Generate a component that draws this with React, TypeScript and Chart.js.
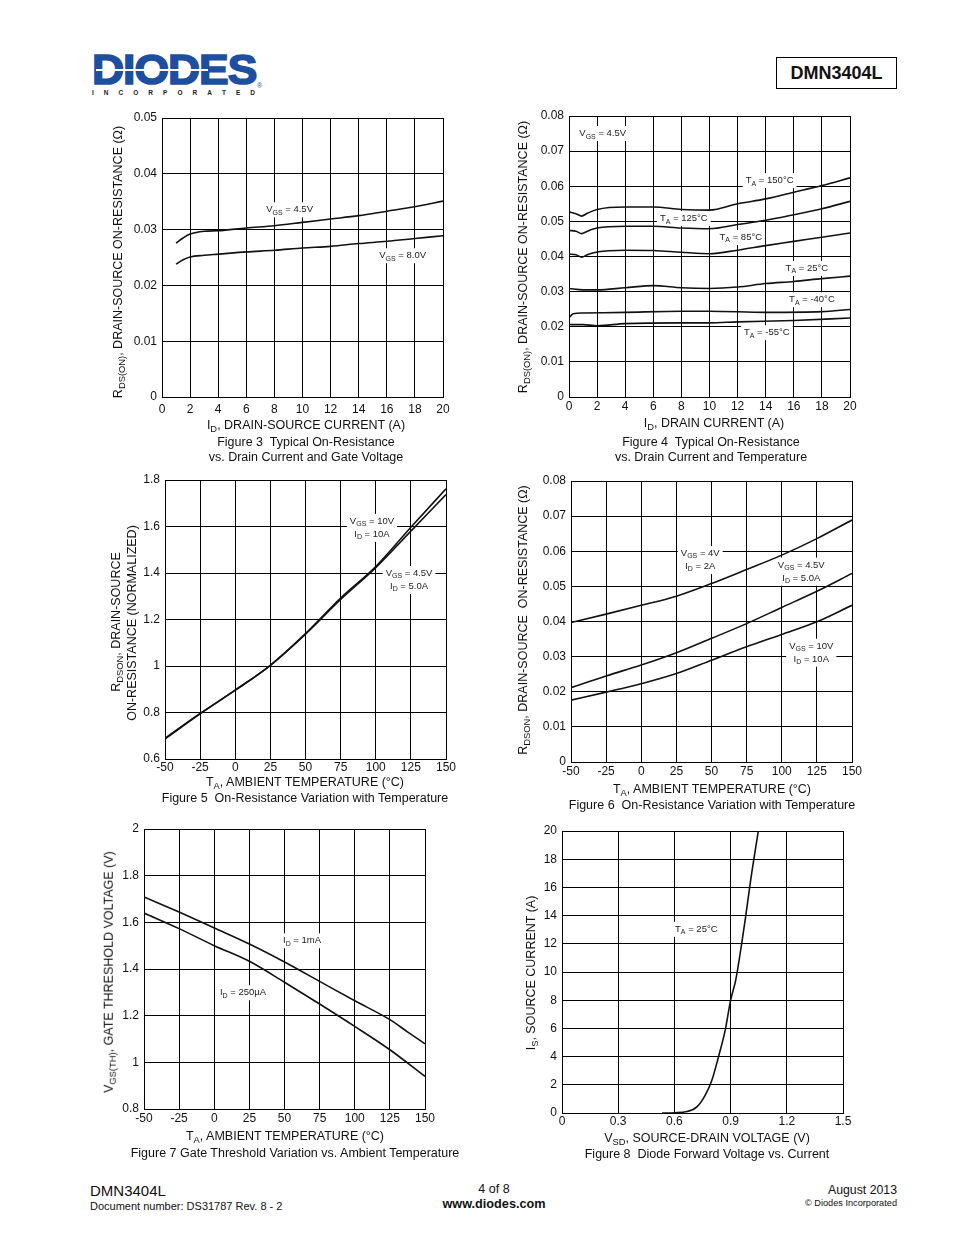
import React, { useEffect, useRef } from 'react';
import { Chart, registerables } from 'chart.js';
Chart.register(...registerables);

const FONT = '"Liberation Sans", Arial, Helvetica, sans-serif';
const INK = '#111';

// ---------- Figure 3 ----------
const fig3Current = [1, 1.5, 2, 3, 4, 6, 8, 10, 12, 14, 16, 18, 20];
const fig3Vgs45 = [0.0276, 0.0285, 0.0292, 0.0297, 0.0298, 0.0303, 0.0307, 0.0313, 0.0319, 0.0325, 0.0333, 0.0341, 0.0351];
const fig3Vgs80 = [0.0238, 0.0246, 0.0251, 0.0254, 0.0256, 0.026, 0.0263, 0.0267, 0.027, 0.0275, 0.0279, 0.0284, 0.0289];
const fig3XTicks = [0, 2, 4, 6, 8, 10, 12, 14, 16, 18, 20];
const fig3XLabels = ['0', '2', '4', '6', '8', '10', '12', '14', '16', '18', '20'];
const fig3YTicks = [0, 0.01, 0.02, 0.03, 0.04, 0.05];
const fig3YLabels = ['0', '0.01', '0.02', '0.03', '0.04', '0.05'];

// ---------- Figure 4 ----------
const fig4CurrentHot = [0, 0.5, 0.9, 1.3, 2, 4, 6, 8, 10, 12, 14, 16, 18, 20];
const fig4T150 = [0.0527, 0.0522, 0.0515, 0.0523, 0.0534, 0.0541, 0.0541, 0.0534, 0.0532, 0.055, 0.0564, 0.0583, 0.0602, 0.0624];
const fig4T125 = [0.0474, 0.0472, 0.0465, 0.0472, 0.0481, 0.0486, 0.0486, 0.0481, 0.0479, 0.0491, 0.0503, 0.0519, 0.0536, 0.0557];
const fig4T85 = [0.0407, 0.0405, 0.0398, 0.0405, 0.0413, 0.0418, 0.0417, 0.0412, 0.0408, 0.0418, 0.0431, 0.0443, 0.0455, 0.0467];
const fig4Current25 = [0, 1, 2, 4, 6, 8, 10, 12, 14, 16, 18, 20];
const fig4T25 = [0.0309, 0.0305, 0.0305, 0.0311, 0.0317, 0.0311, 0.0309, 0.0313, 0.0323, 0.0329, 0.0337, 0.0344];
const fig4CurrentM40 = [0, 0.3, 1, 4, 8, 10, 14, 18, 20];
const fig4TM40 = [0.0225, 0.0237, 0.0239, 0.0241, 0.0244, 0.0244, 0.0241, 0.0243, 0.0249];
const fig4CurrentM55 = [0, 1, 2, 4, 8, 10, 12, 16, 20];
const fig4TM55 = [0.0206, 0.0206, 0.0203, 0.0209, 0.0211, 0.0211, 0.0214, 0.0218, 0.0225];
const fig4XTicks = [0, 2, 4, 6, 8, 10, 12, 14, 16, 18, 20];
const fig4XLabels = ['0', '2', '4', '6', '8', '10', '12', '14', '16', '18', '20'];
const fig4YTicks = [0, 0.01, 0.02, 0.03, 0.04, 0.05, 0.06, 0.07, 0.08];
const fig4YLabels = ['0', '0.01', '0.02', '0.03', '0.04', '0.05', '0.06', '0.07', '0.08'];

// ---------- Figure 5 ----------
const fig5Temp = [-50, -25, 0, 25, 50, 75, 100, 125, 150];
const fig5Vgs10 = [0.689, 0.796, 0.896, 1.003, 1.139, 1.292, 1.428, 1.597, 1.762];
const fig5Vgs45 = [0.686, 0.794, 0.896, 1.003, 1.137, 1.286, 1.423, 1.58, 1.737];
const tempTicks = [-50, -25, 0, 25, 50, 75, 100, 125, 150];
const tempLabels = ['-50', '-25', '0', '25', '50', '75', '100', '125', '150'];
const fig5YTicks = [0.6, 0.8, 1, 1.2, 1.4, 1.6, 1.8];
const fig5YLabels = ['0.6', '0.8', '1', '1.2', '1.4', '1.6', '1.8'];

// ---------- Figure 6 ----------
const fig6Temp = [-50, -25, 0, 25, 50, 75, 100, 125, 150];
const fig6Vgs4 = [0.0397, 0.0421, 0.0446, 0.0472, 0.0508, 0.0548, 0.0589, 0.0636, 0.0689];
const fig6Vgs45 = [0.0212, 0.0245, 0.0276, 0.0311, 0.0352, 0.0394, 0.044, 0.0486, 0.0537];
const fig6Vgs10 = [0.0176, 0.0199, 0.0223, 0.0252, 0.029, 0.0328, 0.0363, 0.0399, 0.0446];
const fig6YTicks = [0, 0.01, 0.02, 0.03, 0.04, 0.05, 0.06, 0.07, 0.08];
const fig6YLabels = ['0', '0.01', '0.02', '0.03', '0.04', '0.05', '0.06', '0.07', '0.08'];

// ---------- Figure 7 ----------
const fig7Temp1mA = [-50, -25, 0, 25, 50, 75, 100, 125, 137, 150];
const fig7Id1mA = [1.709, 1.644, 1.576, 1.507, 1.43, 1.347, 1.264, 1.183, 1.133, 1.079];
const fig7Temp250 = [-50, -25, 0, 25, 50, 75, 100, 125, 150];
const fig7Id250uA = [1.64, 1.573, 1.5, 1.433, 1.343, 1.25, 1.154, 1.054, 0.94];
const fig7YTicks = [0.8, 1, 1.2, 1.4, 1.6, 1.8, 2];
const fig7YLabels = ['0.8', '1', '1.2', '1.4', '1.6', '1.8', '2'];

// ---------- Figure 8 ----------
const fig8Vsd = [0.534, 0.6, 0.667, 0.72, 0.764, 0.8, 0.835, 0.871, 0.9, 0.927, 0.959, 0.98, 1.007, 1.048];
const fig8Is = [0, 0.02, 0.1, 0.43, 1.25, 2.32, 3.97, 5.86, 7.99, 9.4, 12.0, 13.9, 16.5, 20.0];
const fig8XTicks = [0, 0.3, 0.6, 0.9, 1.2, 1.5];
const fig8XLabels = ['0', '0.3', '0.6', '0.9', '1.2', '1.5'];
const fig8YTicks = [0, 2, 4, 6, 8, 10, 12, 14, 16, 18, 20];
const fig8YLabels = ['0', '2', '4', '6', '8', '10', '12', '14', '16', '18', '20'];

type Part = [string, boolean?];
type Ann = { x: number; y: number; lines: Part[][] };
type Series = { x: number[]; y: number[] };
type AxisSpec = { min: number; max: number; ticks: number[]; labels: string[] };
type Spec = {
  plot: [number, number, number, number];
  x: AxisSpec;
  y: AxisSpec;
  series: Series[];
  anns: Ann[];
  xPad: number;
};

const YW = 55;
const PT = 14;
const PR = 16;
const XH = 24;

function annPlugin(anns: Ann[]) {
  return {
    id: 'anns',
    beforeDatasetsDraw(chart: any) {
      const ctx: CanvasRenderingContext2D = chart.ctx;
      const xs = chart.scales.x;
      const ys = chart.scales.y;
      const main = `9.5px ${FONT}`;
      const sub = `7px ${FONT}`;
      const lineH = 13;
      ctx.save();
      for (const a of anns) {
        const cx = xs.getPixelForValue(a.x);
        const cy = ys.getPixelForValue(a.y);
        const widths = a.lines.map((line) =>
          line.reduce((acc, [t, s]) => {
            ctx.font = s ? sub : main;
            return acc + ctx.measureText(t).width;
          }, 0)
        );
        const w = Math.max(...widths);
        const h = lineH * a.lines.length;
        ctx.fillStyle = '#fff';
        ctx.fillRect(cx - w / 2 - 3, cy - h / 2 - 1, w + 6, h + 2);
        a.lines.forEach((line, i) => {
          let x = cx - widths[i] / 2;
          const y = cy - h / 2 + lineH * (i + 0.5);
          for (const [t, s] of line) {
            ctx.font = s ? sub : main;
            ctx.fillStyle = '#222';
            ctx.textBaseline = 'middle';
            ctx.textAlign = 'left';
            ctx.fillText(t, x, s ? y + 3 : y);
            x += ctx.measureText(t).width;
          }
        });
      }
      ctx.restore();
    },
  };
}

function axis(spec: AxisSpec, horizontal: boolean, pad: number) {
  return {
    type: 'linear' as const,
    min: spec.min,
    max: spec.max,
    afterBuildTicks: (s: any) => {
      s.ticks = spec.ticks.map((v) => ({ value: v }));
    },
    afterFit: (s: any) => {
      if (horizontal) s.height = XH;
      else s.width = YW;
    },
    ticks: {
      callback: (_v: any, i: number) => spec.labels[i],
      font: { size: 12, family: FONT },
      color: INK,
      padding: pad,
      maxRotation: 0,
      autoSkip: false,
    },
    grid: { color: '#000', lineWidth: 1, drawTicks: false },
    border: { color: '#000', width: 1 },
  };
}

function ChartBox({ spec }: { spec: Spec }) {
  const ref = useRef<HTMLCanvasElement>(null);
  const [l, t, r, b] = spec.plot;
  const w = r - l + YW + PR;
  const h = b - t + PT + XH;
  useEffect(() => {
    const chart = new Chart(ref.current as HTMLCanvasElement, {
      type: 'scatter',
      data: {
        datasets: spec.series.map((s) => ({
          data: s.x.map((xv, i) => ({ x: xv, y: s.y[i] })),
          showLine: true,
          borderColor: '#111',
          borderWidth: 1.6,
          pointRadius: 0,
          cubicInterpolationMode: 'monotone' as const,
          fill: false,
        })),
      },
      options: {
        responsive: false,
        animation: false,
        layout: { padding: { top: PT, right: PR, left: 0, bottom: 0 } },
        plugins: { legend: { display: false }, tooltip: { enabled: false } },
        scales: {
          x: axis(spec.x, true, spec.xPad),
          y: axis(spec.y, false, 5),
        },
      } as any,
      plugins: [annPlugin(spec.anns)],
    });
    return () => chart.destroy();
  }, []);
  return (
    <canvas
      ref={ref}
      width={w}
      height={h}
      style={{ position: 'absolute', left: l - YW, top: t - PT, width: w, height: h }}
    />
  );
}

const Sub = ({ children }: { children: React.ReactNode }) => (
  <span style={{ fontSize: '0.75em', position: 'relative', top: '0.3em' }}>{children}</span>
);

function Txt({
  x,
  y,
  size = 12.5,
  anchor = 'middle',
  bold = false,
  rotate = false,
  color = INK,
  children,
}: {
  x: number;
  y: number;
  size?: number;
  anchor?: 'start' | 'middle' | 'end';
  bold?: boolean;
  rotate?: boolean;
  color?: string;
  children: React.ReactNode;
}) {
  const tx = anchor === 'start' ? '0' : anchor === 'end' ? '-100%' : '-50%';
  return (
    <div
      style={{
        position: 'absolute',
        left: x,
        top: y,
        transform: `translate(${tx},-50%)${rotate ? ' rotate(-90deg)' : ''}`,
        whiteSpace: 'pre',
        fontSize: size,
        lineHeight: 1,
        fontFamily: FONT,
        fontWeight: bold ? 'bold' : 'normal',
        color,
      }}
    >
      {children}
    </div>
  );
}

const vgs = (v: string): Part[] => [['V'], ['GS', true], [` = ${v}`]];
const ta = (v: string): Part[] => [['T'], ['A', true], [` = ${v}`]];
const idl = (v: string): Part[] => [['I'], ['D', true], [` = ${v}`]];

const specs: Spec[] = [
  {
    plot: [162, 118, 443, 397],
    x: { min: 0, max: 20, ticks: fig3XTicks, labels: fig3XLabels },
    y: { min: 0, max: 0.05, ticks: fig3YTicks, labels: fig3YLabels },
    series: [
      { x: fig3Current, y: fig3Vgs45 },
      { x: fig3Current, y: fig3Vgs80 },
    ],
    anns: [
      { x: 9.08, y: 0.03354, lines: [vgs('4.5V')] },
      { x: 17.13, y: 0.02531, lines: [vgs('8.0V')] },
    ],
    xPad: 5,
  },
  {
    plot: [569, 116, 850, 397],
    x: { min: 0, max: 20, ticks: fig4XTicks, labels: fig4XLabels },
    y: { min: 0, max: 0.08, ticks: fig4YTicks, labels: fig4YLabels },
    series: [
      { x: fig4CurrentHot, y: fig4T150 },
      { x: fig4CurrentHot, y: fig4T125 },
      { x: fig4CurrentHot, y: fig4T85 },
      { x: fig4Current25, y: fig4T25 },
      { x: fig4CurrentM40, y: fig4TM40 },
      { x: fig4CurrentM55, y: fig4TM55 },
    ],
    anns: [
      { x: 2.4, y: 0.075, lines: [vgs('4.5V')] },
      { x: 14.28, y: 0.0616, lines: [ta('150°C')] },
      { x: 8.17, y: 0.0508, lines: [ta('125°C')] },
      { x: 12.23, y: 0.0454, lines: [ta('85°C')] },
      { x: 16.93, y: 0.0366, lines: [ta('25°C')] },
      { x: 17.29, y: 0.0277, lines: [ta('-40°C')] },
      { x: 14.08, y: 0.0183, lines: [ta('-55°C')] },
    ],
    xPad: 2,
  },
  {
    plot: [165, 480, 446, 759],
    x: { min: -50, max: 150, ticks: tempTicks, labels: tempLabels },
    y: { min: 0.6, max: 1.8, ticks: fig5YTicks, labels: fig5YLabels },
    series: [
      { x: fig5Temp, y: fig5Vgs10 },
      { x: fig5Temp, y: fig5Vgs45 },
    ],
    anns: [
      { x: 97.3, y: 1.594, lines: [vgs('10V'), idl('10A')] },
      { x: 123.7, y: 1.37, lines: [vgs('4.5V'), idl('5.0A')] },
    ],
    xPad: 1,
  },
  {
    plot: [571, 481, 852, 762],
    x: { min: -50, max: 150, ticks: tempTicks, labels: tempLabels },
    y: { min: 0, max: 0.08, ticks: fig6YTicks, labels: fig6YLabels },
    series: [
      { x: fig6Temp, y: fig6Vgs4 },
      { x: fig6Temp, y: fig6Vgs45 },
      { x: fig6Temp, y: fig6Vgs10 },
    ],
    anns: [
      { x: 42.0, y: 0.0575, lines: [vgs('4V'), idl('2A')] },
      { x: 113.9, y: 0.0542, lines: [vgs('4.5V'), idl('5.0A')] },
      { x: 121.0, y: 0.0311, lines: [vgs('10V'), idl('10A')] },
    ],
    xPad: 2,
  },
  {
    plot: [144, 829, 425, 1109],
    x: { min: -50, max: 150, ticks: tempTicks, labels: tempLabels },
    y: { min: 0.8, max: 2, ticks: fig7YTicks, labels: fig7YLabels },
    series: [
      { x: fig7Temp1mA, y: fig7Id1mA },
      { x: fig7Temp250, y: fig7Id250uA },
    ],
    anns: [
      { x: 62.5, y: 1.521, lines: [idl('1mA')] },
      { x: 20.5, y: 1.298, lines: [idl('250µA')] },
    ],
    xPad: 2,
  },
  {
    plot: [562, 831, 843, 1113],
    x: { min: 0, max: 1.5, ticks: fig8XTicks, labels: fig8XLabels },
    y: { min: 0, max: 20, ticks: fig8YTicks, labels: fig8YLabels },
    series: [{ x: fig8Vsd, y: fig8Is }],
    anns: [{ x: 0.717, y: 13.03, lines: [ta('25°C')] }],
    xPad: 1,
  },
];

const BLUE = '#1d4f9e';

export default function App() {
  return (
    <div
      style={{
        position: 'absolute',
        left: 0,
        top: 0,
        width: 954,
        height: 1235,
        background: '#fff',
        fontFamily: FONT,
        color: INK,
        overflow: 'hidden',
      }}
    >
      {/* Logo */}
      <div
        style={{
          position: 'absolute',
          left: 92,
          top: 49,
          fontSize: 42,
          lineHeight: '42px',
          fontWeight: 900,
          color: BLUE,
          fontFamily: FONT,
          letterSpacing: -1,
          WebkitTextStroke: `1.6px ${BLUE}`,
          transform: 'scaleX(1.06)',
          transformOrigin: 'left top',
        }}
      >
        DIODES
      </div>
      <div style={{ position: 'absolute', left: 96, top: 69, width: 112, height: 1.5, background: '#fff' }} />
      <div
        style={{
          position: 'absolute',
          left: 92,
          top: 90,
          width: 163,
          display: 'flex',
          justifyContent: 'space-between',
          fontSize: 6.5,
          fontWeight: 'bold',
          color: '#222',
          lineHeight: 1,
        }}
      >
        {'INCORPORATED'.split('').map((c, i) => (
          <span key={i}>{c}</span>
        ))}
      </div>
      <div style={{ position: 'absolute', left: 257, top: 82, fontSize: 7, color: BLUE, lineHeight: 1 }}>®</div>

      {/* Part number box */}
      <div
        style={{
          position: 'absolute',
          left: 776,
          top: 57,
          width: 119,
          height: 30,
          border: '1px solid #000',
          display: 'flex',
          alignItems: 'center',
          justifyContent: 'center',
          fontWeight: 'bold',
          fontSize: 18,
        }}
      >
        DMN3404L
      </div>

      {specs.map((s, i) => (
        <ChartBox key={i} spec={s} />
      ))}

      {/* Figure 3 texts */}
      <Txt x={118} y={262} rotate>
        R<Sub>DS(ON)</Sub>, DRAIN-SOURCE ON-RESISTANCE (Ω)
      </Txt>
      <Txt x={306} y={425}>
        I<Sub>D</Sub>, DRAIN-SOURCE CURRENT (A)
      </Txt>
      <Txt x={306} y={442}>{'Figure 3  Typical On-Resistance'}</Txt>
      <Txt x={306} y={457}>vs. Drain Current and Gate Voltage</Txt>

      {/* Figure 4 texts */}
      <Txt x={523} y={257} rotate>
        R<Sub>DS(ON)</Sub>, DRAIN-SOURCE ON-RESISTANCE (Ω)
      </Txt>
      <Txt x={714} y={423}>
        I<Sub>D</Sub>, DRAIN CURRENT (A)
      </Txt>
      <Txt x={711} y={442}>{'Figure 4  Typical On-Resistance'}</Txt>
      <Txt x={711} y={457}>vs. Drain Current and Temperature</Txt>

      {/* Figure 5 texts */}
      <Txt x={116} y={622} rotate>
        R<Sub>DSON</Sub>, DRAIN-SOURCE
      </Txt>
      <Txt x={132} y={623} rotate>
        ON-RESISTANCE (NORMALIZED)
      </Txt>
      <Txt x={305} y={782}>
        T<Sub>A</Sub>, AMBIENT TEMPERATURE (°C)
      </Txt>
      <Txt x={305} y={798}>{'Figure 5  On-Resistance Variation with Temperature'}</Txt>

      {/* Figure 6 texts */}
      <Txt x={523} y={620} rotate>
        R<Sub>DSON</Sub>{', DRAIN-SOURCE  ON-RESISTANCE (Ω)'}
      </Txt>
      <Txt x={712} y={789}>
        T<Sub>A</Sub>, AMBIENT TEMPERATURE (°C)
      </Txt>
      <Txt x={712} y={805}>{'Figure 6  On-Resistance Variation with Temperature'}</Txt>

      {/* Figure 7 texts */}
      <Txt x={109} y={972} rotate>
        V<Sub>GS(TH)</Sub>, GATE THRESHOLD VOLTAGE (V)
      </Txt>
      <Txt x={285} y={1136}>
        T<Sub>A</Sub>, AMBIENT TEMPERATURE (°C)
      </Txt>
      <Txt x={295} y={1153}>Figure 7 Gate Threshold Variation vs. Ambient Temperature</Txt>

      {/* Figure 8 texts */}
      <Txt x={531} y={973} rotate>
        I<Sub>S</Sub>, SOURCE CURRENT (A)
      </Txt>
      <Txt x={707} y={1138}>
        V<Sub>SD</Sub>, SOURCE-DRAIN VOLTAGE (V)
      </Txt>
      <Txt x={707} y={1154}>{'Figure 8  Diode Forward Voltage vs. Current'}</Txt>

      {/* Footer */}
      <Txt x={90} y={1190} size={15} anchor="start">
        DMN3404L
      </Txt>
      <Txt x={90} y={1206} size={11} anchor="start">
        Document number: DS31787 Rev. 8 - 2
      </Txt>
      <Txt x={494} y={1189} size={12.5}>
        4 of 8
      </Txt>
      <Txt x={494} y={1204} size={12.7} bold>
        www.diodes.com
      </Txt>
      <Txt x={897} y={1190} size={12.3} anchor="end">
        August 2013
      </Txt>
      <Txt x={897} y={1204} size={9.2} anchor="end">
        © Diodes Incorporated
      </Txt>
    </div>
  );
}
